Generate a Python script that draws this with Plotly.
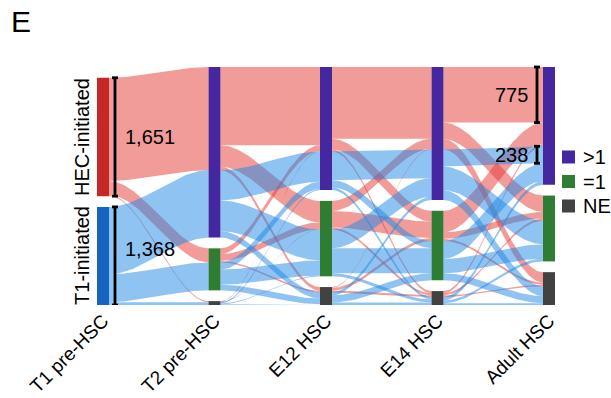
import numpy as np
import plotly.graph_objects as go

# ---- data -------------------------------------------------------------
stages = ["T1 pre-HSC", "T2 pre-HSC", "E12 HSC", "E14 HSC", "Adult HSC"]
origins = ["HEC-initiated", "T1-initiated"]
states = [">1", "=1", "NE"]

# T1 pre-HSC origin -> T2 pre-HSC state
hec_to_t2 = [1440, 196, 15]
t1_to_t2 = [939, 390, 39]

# transitions between consecutive stages (rows: from state, cols: to state)
hec_t2_e12 = [[1090, 300, 50], [80, 95, 21], [10, 5, 0]]
t1_t2_e12 = [[420, 430, 89], [100, 210, 80], [17, 12, 10]]
hec_e12_e14 = [[1000, 150, 30], [140, 230, 30], [10, 40, 21]]
t1_e12_e14 = [[400, 100, 37], [260, 350, 42], [46, 99, 34]]
hec_e14_adult = [[775, 230, 145], [300, 90, 30], [30, 30, 21]]
t1_e14_adult = [[238, 330, 138], [250, 200, 99], [50, 38, 25]]

origin_totals = [1651, 1368]
bracket_values = [775, 238]

# ---- styling ----------------------------------------------------------
origin_bar_colors = ["#c62828", "#1565c0"]
flow_colors = ["rgba(229,57,53,0.5)", "rgba(30,136,229,0.5)"]
state_colors = ["#4527a0", "#2e7d32", "#424242"]
FONT = "Liberation Sans, Arial, sans-serif"

W, H = 611, 398
X0_PX, DX_PX = 103.0, 111.5          # first column centre / column spacing
PLOT_BOTTOM_PX, TOP_PX = 305.0, 67.0
GAP = 150                             # gap between strata (count units)
BAR_W = 12 / DX_PX

# ---- build flow list: (stage, from stratum, to stratum, lineage, n) ---
flows = []
for s, n in enumerate(hec_to_t2):
    flows.append((0, 0, s, 0, n))
for s, n in enumerate(t1_to_t2):
    flows.append((0, 1, s, 1, n))
for k, (mh, mt) in enumerate([(hec_t2_e12, t1_t2_e12),
                              (hec_e12_e14, t1_e12_e14),
                              (hec_e14_adult, t1_e14_adult)], start=1):
    for lin, m in enumerate([mh, mt]):
        for a in range(3):
            for b in range(3):
                flows.append((k, a, b, lin, m[a][b]))

n_strata = [2, 3, 3, 3, 3]
totals = [[0] * n for n in n_strata]
for k, a, b, lin, n in flows:
    if k == 0:
        totals[0][a] += n
for k, a, b, lin, n in flows:
    totals[k + 1][b] += n

# stack strata bottom-aligned, first stratum on top
extent = []
for k in range(5):
    ext = [None] * n_strata[k]
    y = 0.0
    for s in reversed(range(n_strata[k])):
        ext[s] = (y, y + totals[k][s])
        y += totals[k][s] + GAP
    extent.append(ext)

total_span = max(extent[k][0][1] for k in range(5))
scale = (PLOT_BOTTOM_PX - TOP_PX) / total_span   # px per count
y_max = PLOT_BOTTOM_PX / scale


def px_x(px):
    return (px - X0_PX) / DX_PX


def px_y(px):
    return (PLOT_BOTTOM_PX - px) / scale


# lode positions on both sides of each flow
left_pos, right_pos = {}, {}
for k in range(4):
    fl = [f for f in flows if f[0] == k]
    for s in range(n_strata[k]):
        top = extent[k][s][1]
        for f in sorted([f for f in fl if f[1] == s], key=lambda f: (f[3], f[2])):
            left_pos[f] = (top - f[4], top)
            top -= f[4]
    for t in range(n_strata[k + 1]):
        top = extent[k + 1][t][1]
        for f in sorted([f for f in fl if f[2] == t], key=lambda f: (f[3], f[1])):
            right_pos[f] = (top - f[4], top)
            top -= f[4]

fig = go.Figure()

# ---- ribbons ----------------------------------------------------------
tt = np.linspace(0, 1, 60)
ease = tt * tt * (3 - 2 * tt)
for f in flows:
    k, a, b, lin, n = f
    if n <= 0:
        continue
    xa, xb = k + BAR_W / 2, k + 1 - BAR_W / 2
    (la, ha), (lb, hb) = left_pos[f], right_pos[f]
    xs = xa + (xb - xa) * tt
    top = ha + (hb - ha) * ease
    bot = la + (lb - la) * ease
    fig.add_trace(go.Scatter(
        x=np.concatenate([xs, xs[::-1]]),
        y=np.concatenate([top, bot[::-1]]),
        fill="toself", fillcolor=flow_colors[lin], mode="lines",
        line=dict(width=0), hoverinfo="skip", showlegend=False))

# ---- strata bars ------------------------------------------------------
for k in range(5):
    for s in range(n_strata[k]):
        lo, hi = extent[k][s]
        color = origin_bar_colors[s] if k == 0 else state_colors[s]
        fig.add_trace(go.Bar(x=[k], y=[hi - lo], base=[lo], width=BAR_W,
                             marker=dict(color=color, line=dict(width=0)),
                             hoverinfo="skip", showlegend=False))

# ---- brackets ---------------------------------------------------------
def bracket(x, lo, hi):
    c = 3 / DX_PX
    fig.add_trace(go.Scatter(
        x=[x - c, x + c, None, x, x, None, x - c, x + c],
        y=[hi, hi, None, hi, lo, None, lo, lo],
        mode="lines", line=dict(color="black", width=2.8),
        hoverinfo="skip", showlegend=False))


annotations = []
xb0 = px_x(115)
label_shift = [0, 7 / scale]
for s in range(2):
    lo, hi = extent[0][s]
    bracket(xb0, lo, hi)
    annotations.append(dict(x=px_x(123), y=(lo + hi) / 2 + label_shift[s],
                            text=f"{origin_totals[s]:,}",
                            xanchor="left", yanchor="middle", showarrow=False,
                            font=dict(size=20, color="black", family=FONT)))
    annotations.append(dict(x=px_x(82), y=(lo + hi) / 2, text=origins[s], textangle=-90,
                            xanchor="center", yanchor="middle", showarrow=False,
                            font=dict(size=20, color="black", family=FONT)))

# adult >1 stratum: HEC >1 lode and T1 >1 lode
f_hec = (3, 0, 0, 0, hec_e14_adult[0][0])
f_t1 = (3, 0, 0, 1, t1_e14_adult[0][0])
xb4 = px_x(537)
for f, v in zip([f_hec, f_t1], bracket_values):
    lo, hi = right_pos[f]
    hi_b = hi
    lo_b = hi - v
    bracket(xb4, lo_b, hi_b)
    annotations.append(dict(x=px_x(530), y=(lo_b + hi_b) / 2, text=f"{v:,}",
                            xanchor="right", yanchor="middle", showarrow=False,
                            font=dict(size=20, color="black", family=FONT)))

# ---- legend -----------------------------------------------------------
for i, name in enumerate(states):
    ypx = 157 + 24.5 * i
    fig.add_trace(go.Scatter(x=[px_x(568.5)], y=[px_y(ypx)], mode="markers",
                             marker=dict(symbol="square", size=13, color=state_colors[i],
                                         line=dict(width=0)),
                             cliponaxis=False, hoverinfo="skip", showlegend=False))
    annotations.append(dict(x=px_x(581), y=px_y(ypx), text=name, xanchor="left",
                            yanchor="middle", showarrow=False,
                            font=dict(size=20, color="black", family=FONT)))

# panel letter
annotations.append(dict(xref="paper", yref="paper", x=9 / W, y=1 - 21 / PLOT_BOTTOM_PX,
                        text="E", xanchor="left", yanchor="middle", showarrow=False,
                        font=dict(size=30, color="black", family=FONT)))

fig.update_layout(
    width=W, height=H, margin=dict(l=0, r=0, t=0, b=H - PLOT_BOTTOM_PX),
    paper_bgcolor="white", plot_bgcolor="white", barmode="overlay",
    showlegend=False, annotations=annotations,
    font=dict(family=FONT, color="black"),
    xaxis=dict(range=[px_x(0), px_x(W)], tickvals=list(range(5)), ticktext=stages,
               tickangle=-45, tickfont=dict(size=19, color="black", family=FONT),
               showgrid=False, zeroline=False, showline=False, ticks="", automargin=False),
    yaxis=dict(range=[0, y_max], visible=False, showgrid=False, zeroline=False),
)

fig.write_html("out.html")
